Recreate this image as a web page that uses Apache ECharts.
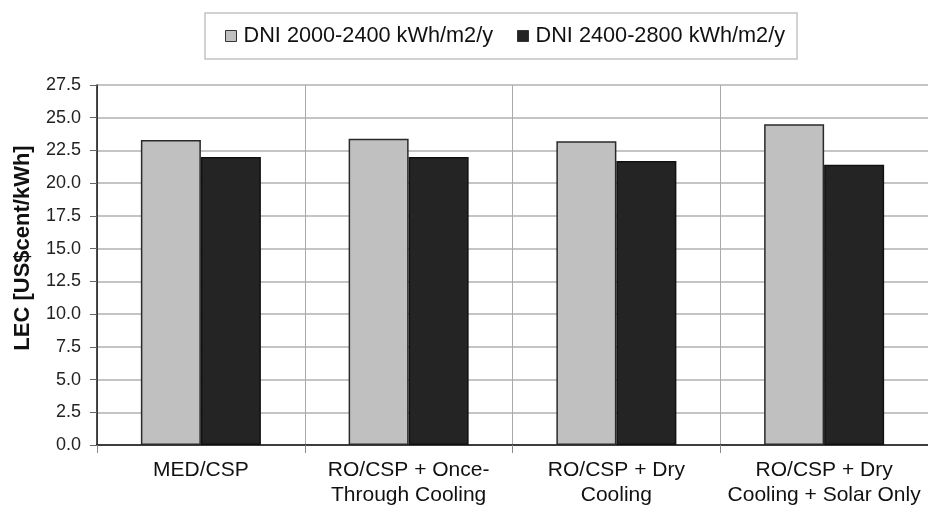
<!DOCTYPE html>
<html>
<head>
<meta charset="utf-8">
<script src="https://cdn.jsdelivr.net/npm/echarts@6/dist/echarts.min.js"></script>
<style>
  html, body { margin: 0; padding: 0; background: #fff; }
  #chart { width: 928px; height: 508px; }
</style>
</head>
<body>
<div id="chart"></div>
<script>
// Levelized electricity cost by plant configuration and solar resource
const categories = [
  'MED/CSP',
  'RO/CSP + Once-\nThrough Cooling',
  'RO/CSP + Dry\nCooling',
  'RO/CSP + Dry\nCooling + Solar Only'
];
const seriesNames = ['DNI 2000-2400 kWh/m2/y', 'DNI 2400-2800 kWh/m2/y'];
const dniLow = [23.3, 23.4, 23.2, 24.5];
const dniHigh = [22.0, 22.0, 21.7, 21.4];
const yTicks = { min: 0, max: 27.5, interval: 2.5 };

const font = 'Liberation Sans, Arial, Helvetica, sans-serif';
const chart = echarts.init(document.getElementById('chart'), null, { renderer: 'canvas' });

chart.setOption({
  animation: false,
  backgroundColor: '#ffffff',
  textStyle: { fontFamily: font },
  legend: {
    left: 205,
    top: 13,
    padding: [12, 12, 12, 20],
    borderColor: '#c4c4c4',
    borderWidth: 1.5,
    itemWidth: 11,
    itemHeight: 11,
    itemGap: 24,
    icon: 'rect',
    itemStyle: { borderColor: '#333', borderWidth: 1 },
    textStyle: { fontFamily: font, fontSize: 21.7, color: '#111', padding: [0, 0, 0, 2] },
    data: seriesNames
  },
  grid: { left: 97, right: 0, top: 85, bottom: 61, containLabel: false },
  xAxis: {
    type: 'category',
    data: categories,
    boundaryGap: true,
    axisLine: { lineStyle: { color: '#111', width: 1.5 } },
    axisTick: { show: true, length: 8, lineStyle: { color: '#888' } },
    splitLine: { show: true, lineStyle: { color: '#aaaaaa', width: 1 } },
    axisLabel: {
      fontFamily: font, fontSize: 21, color: '#111',
      margin: 13, lineHeight: 25, interval: 0
    }
  },
  yAxis: {
    type: 'value',
    min: yTicks.min,
    max: yTicks.max,
    interval: yTicks.interval,
    name: 'LEC [US$cent/kWh]',
    nameLocation: 'middle',
    nameGap: 63,
    nameTextStyle: {
      fontFamily: font, fontSize: 22, fontWeight: 'bold', color: '#111',
      padding: [0, 0, 0, 34]
    },
    axisLine: { show: true, lineStyle: { color: '#111', width: 1.5 } },
    axisTick: { show: true, length: 7, lineStyle: { color: '#666' } },
    splitLine: { show: true, lineStyle: { color: '#b0b0b0', width: 1.5 } },
    axisLabel: {
      fontFamily: font, fontSize: 18, color: '#222', margin: 16,
      formatter: v => v.toFixed(1)
    }
  },
  series: [
    {
      name: seriesNames[0],
      type: 'bar',
      data: dniLow,
      barWidth: 60,
      barGap: '0%',
      itemStyle: { color: '#c0c0c0', borderColor: '#2a2a2a', borderWidth: 1.5 }
    },
    {
      name: seriesNames[1],
      type: 'bar',
      data: dniHigh,
      barWidth: 60,
      itemStyle: { color: '#242424', borderColor: '#111', borderWidth: 1.5 }
    }
  ]
});
</script>
</body>
</html>
